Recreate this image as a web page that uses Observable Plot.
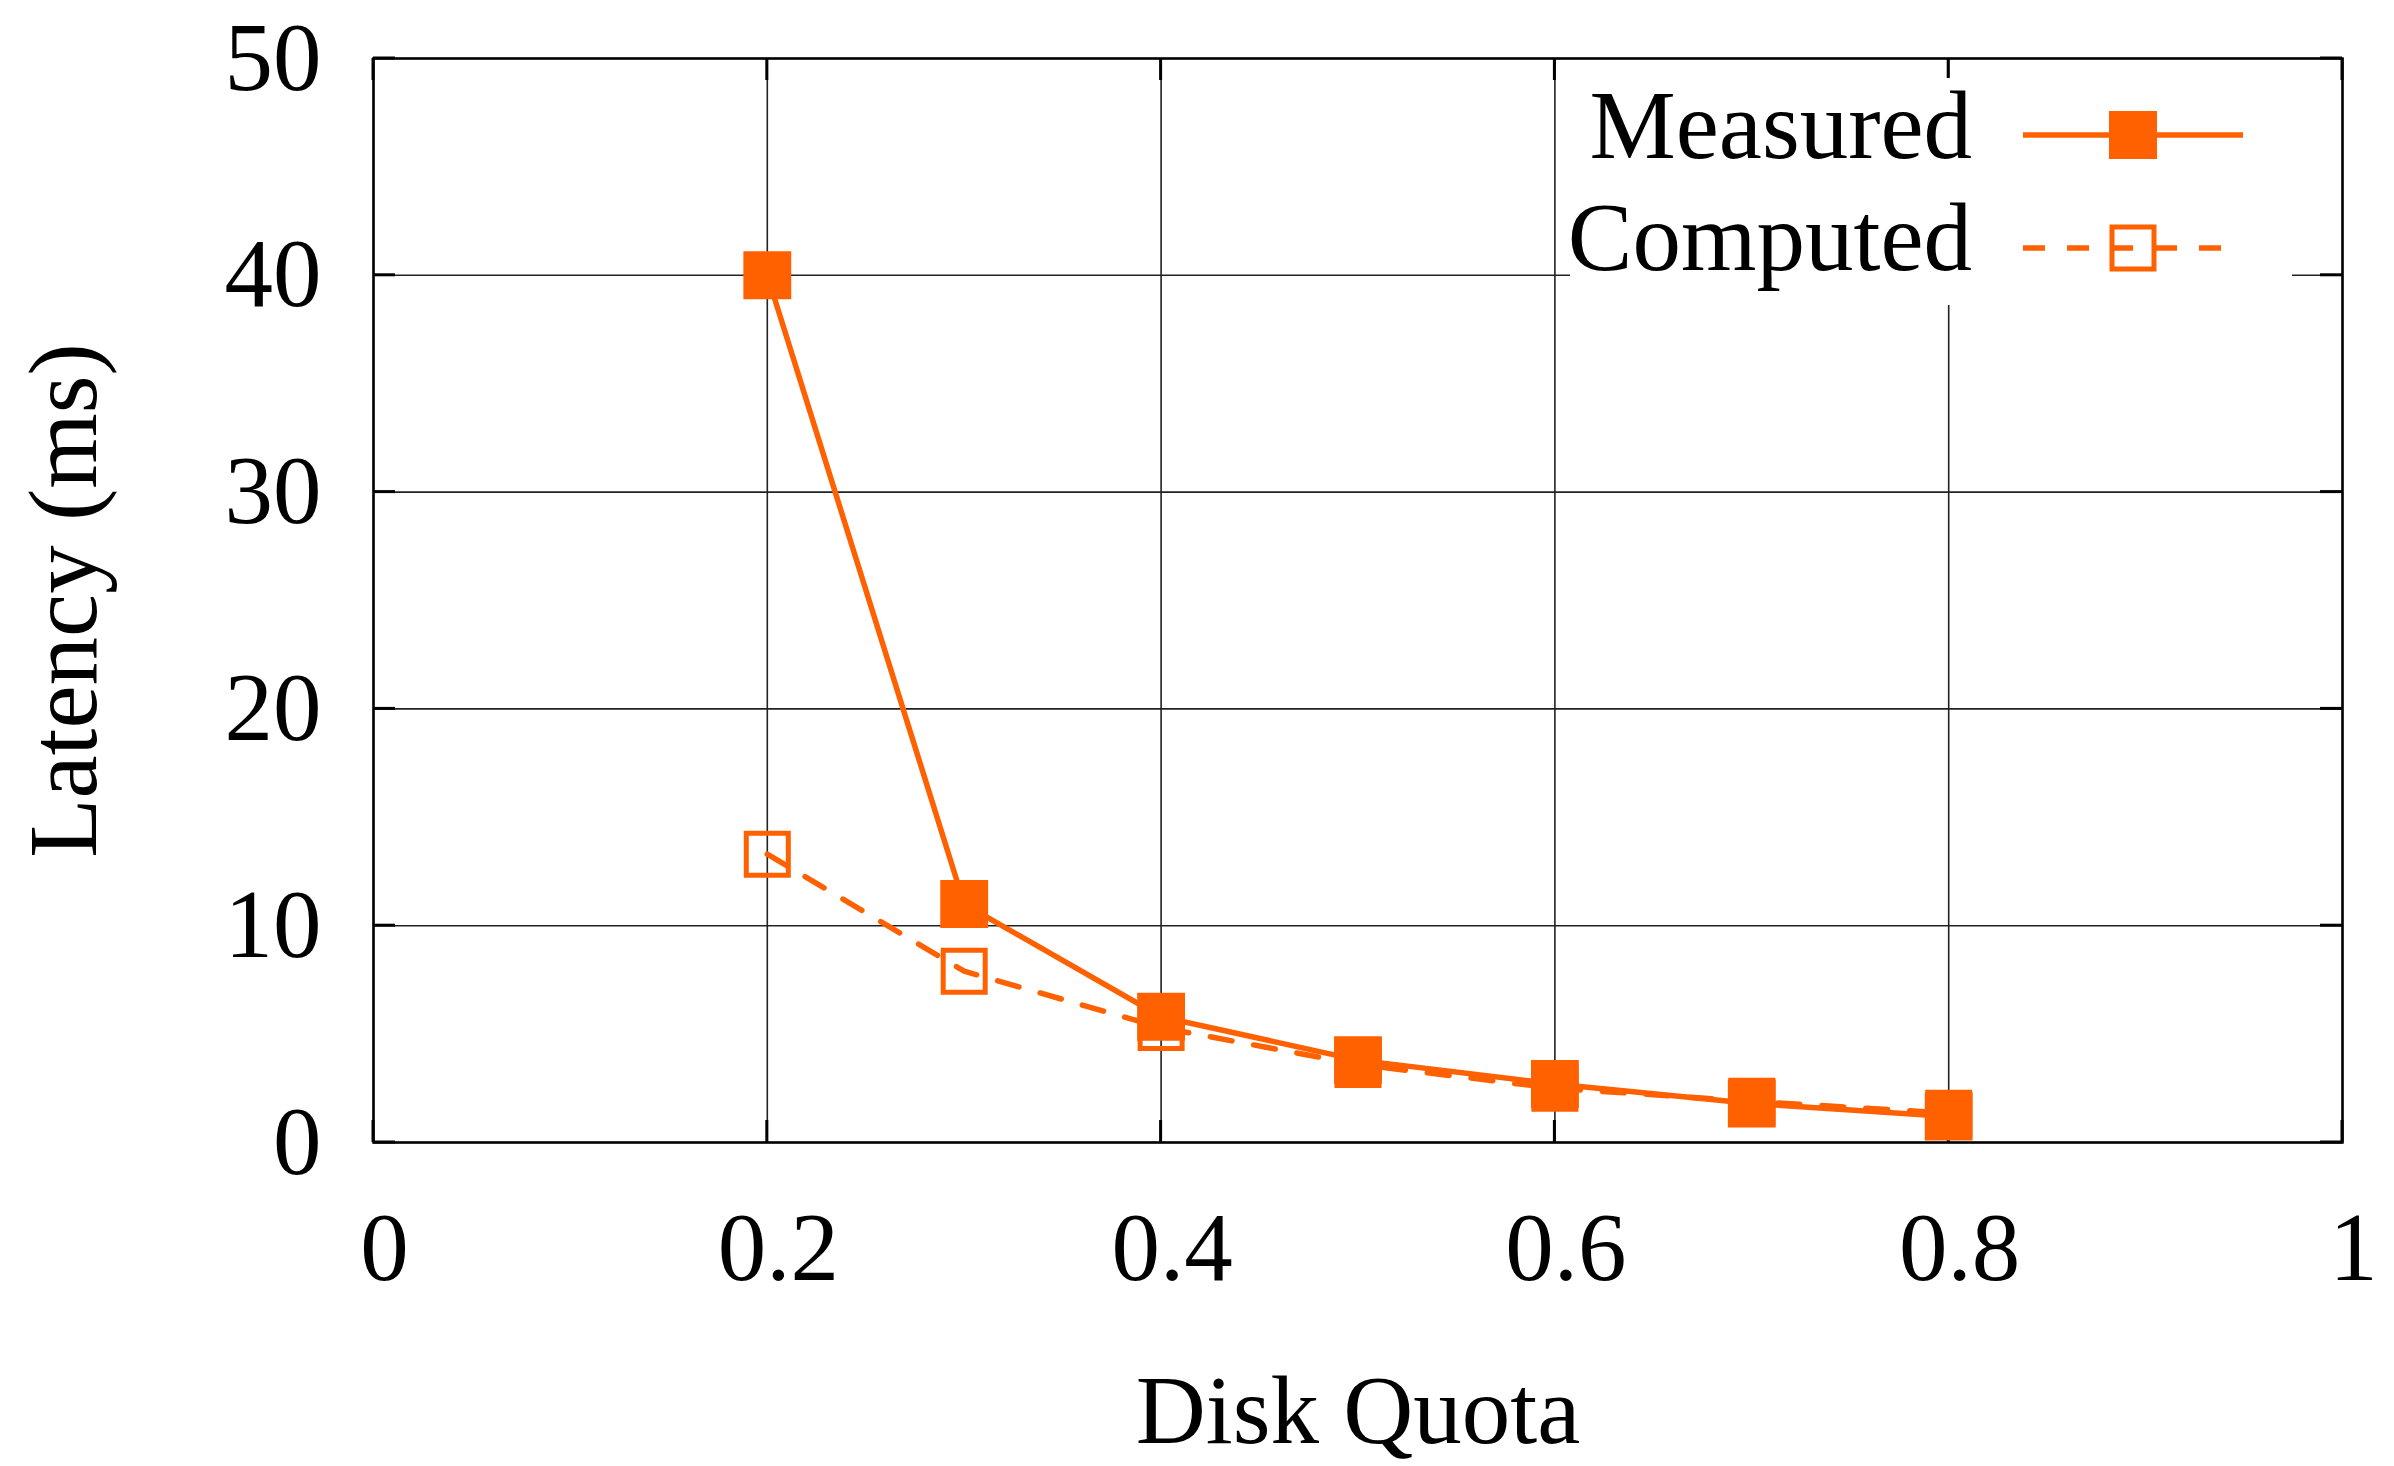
<!DOCTYPE html>
<html>
<head>
<meta charset="utf-8">
<script src="https://cdn.jsdelivr.net/npm/d3@7"></script>
<script src="https://cdn.jsdelivr.net/npm/@observablehq/plot@0.6"></script>
<style>
  html, body { margin: 0; padding: 0; background: #fff; }
  #chart svg { display: block; }
</style>
</head>
<body>
<div id="chart"></div>
<script>
// Latency versus disk quota: measured and computed series
const quota = [0.2, 0.3, 0.4, 0.5, 0.6, 0.7, 0.8];
const measured = [40, 11.0, 5.8, 3.8, 2.7, 1.8, 1.2];
const computed = [13.3, 7.9, 5.3, 3.6, 2.5, 1.9, 1.35];
const seriesNames = ["Measured", "Computed"];
const xTicks = [0, 0.2, 0.4, 0.6, 0.8, 1];
const yTicks = [0, 10, 20, 30, 40, 50];
const xLabel = "Disk Quota";
const yLabel = "Latency (ms)";

const ORANGE = "#ff6000";
const FONT = "'Liberation Serif', 'Times New Roman', serif";
const FS = 97;
const LW = 5.5;

const measuredRows = quota.map((q, i) => ({quota: q, latency: measured[i]}));
const computedRows = quota.map((q, i) => ({quota: q, latency: computed[i]}));

// Short tick marks pointing into the frame on all four sides
const inwardTicks = (index, scales, values, dims) => {
  const {x, y} = scales;
  const L = dims.marginLeft, R = dims.width - dims.marginRight;
  const T = dims.marginTop, B = dims.height - dims.marginBottom;
  const len = 22;
  const g = d3.create("svg:g").attr("stroke", "black").attr("stroke-width", 3);
  for (const t of xTicks) {
    const px = x(t);
    g.append("line").attr("x1", px).attr("x2", px).attr("y1", B).attr("y2", B - len);
    g.append("line").attr("x1", px).attr("x2", px).attr("y1", T).attr("y2", T + len);
  }
  for (const t of yTicks) {
    const py = y(t);
    g.append("line").attr("y1", py).attr("y2", py).attr("x1", L).attr("x2", L + len);
    g.append("line").attr("y1", py).attr("y2", py).attr("x1", R).attr("x2", R - len);
  }
  return g.node();
};

// Key in the upper-right corner, on an opaque white box
const key = (index, scales, values, dims) => {
  const R = dims.width - dims.marginRight;
  const T = dims.marginTop;
  const g = d3.create("svg:g");
  g.append("rect")
    .attr("x", R - 772).attr("y", T + 20)
    .attr("width", 722).attr("height", 227)
    .attr("fill", "white");
  const rows = [
    {name: seriesNames[0], dash: null, filled: true, yLine: T + 77, yText: T + 100},
    {name: seriesNames[1], dash: "22,22", filled: false, yLine: T + 190, yText: T + 212}
  ];
  for (const r of rows) {
    g.append("text")
      .attr("x", R - 370).attr("y", r.yText)
      .attr("text-anchor", "end")
      .attr("font-family", FONT).attr("font-size", FS)
      .attr("fill", "black")
      .text(r.name);
    const line = g.append("line")
      .attr("x1", R - 319).attr("x2", R - 99)
      .attr("y1", r.yLine).attr("y2", r.yLine)
      .attr("stroke", ORANGE).attr("stroke-width", LW);
    if (r.dash) line.attr("stroke-dasharray", r.dash);
    const cx = R - 209;
    if (r.filled) {
      g.append("rect").attr("x", cx - 24).attr("y", r.yLine - 24)
        .attr("width", 48).attr("height", 48).attr("fill", ORANGE);
    } else {
      g.append("rect").attr("x", cx - 21).attr("y", r.yLine - 21)
        .attr("width", 42).attr("height", 42)
        .attr("fill", "none").attr("stroke", ORANGE).attr("stroke-width", 5);
    }
  }
  return g.node();
};

const chart = Plot.plot({
  width: 2394,
  height: 1466,
  marginLeft: 373,
  marginRight: 52,
  marginTop: 58,
  marginBottom: 324,
  style: {fontFamily: FONT, fontSize: FS + "px", color: "black", background: "white"},
  x: {domain: [0, 1]},
  y: {domain: [0, 50]},
  marks: [
    Plot.gridX(xTicks, {stroke: "#222", strokeOpacity: 1, strokeWidth: 1.6}),
    Plot.gridY(yTicks, {stroke: "#222", strokeOpacity: 1, strokeWidth: 1.6}),
    inwardTicks,
    key,
    Plot.frame({stroke: "black", strokeWidth: 2.5}),
    Plot.axisY({
      ticks: yTicks, tickSize: 0, tickPadding: 52, label: null,
      fontSize: FS, fontFamily: FONT, fill: "black"
    }),
    Plot.axisX({
      ticks: xTicks, tickSize: 0, tickPadding: 69, dx: 11, label: null,
      tickFormat: (d) => String(d),
      fontSize: FS, fontFamily: FONT, fill: "black"
    }),
    Plot.text([xLabel], {
      frameAnchor: "bottom", dy: 269, lineAnchor: "middle", textAnchor: "middle",
      fontSize: FS, fontFamily: FONT, fill: "black"
    }),
    Plot.text([yLabel], {
      frameAnchor: "left", dx: -309, rotate: -90, lineAnchor: "middle", textAnchor: "middle",
      fontSize: FS, fontFamily: FONT, fill: "black"
    }),
    // Computed series: dashed line with open squares
    Plot.line(computedRows, {
      x: "quota", y: "latency", stroke: ORANGE, strokeWidth: LW,
      strokeDasharray: "22,22"
    }),
    Plot.dot(computedRows, {
      x: "quota", y: "latency", symbol: "square", r: 23.7,
      fill: "none", stroke: ORANGE, strokeWidth: 5
    }),
    // Measured series: solid line with filled squares
    Plot.line(measuredRows, {
      x: "quota", y: "latency", stroke: ORANGE, strokeWidth: LW
    }),
    Plot.dot(measuredRows, {
      x: "quota", y: "latency", symbol: "square", r: 27,
      fill: ORANGE, stroke: "none"
    })
  ]
});

document.getElementById("chart").appendChild(chart);
</script>
</body>
</html>
